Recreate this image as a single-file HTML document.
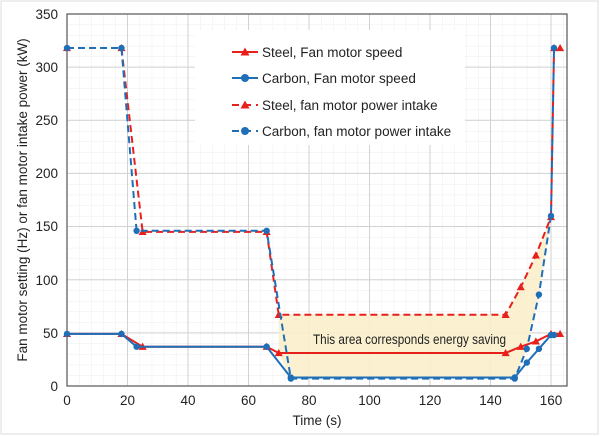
<!DOCTYPE html>
<html><head><style>body{margin:0;background:#fff}svg{display:block}text{font-family:"Liberation Sans",sans-serif;fill:#222;font-size:13.5px}</style></head><body>
<svg width="600" height="436" viewBox="0 0 600 436" xmlns="http://www.w3.org/2000/svg">
<defs>
<pattern id="mg" x="67" y="386" width="12.1" height="10.63" patternUnits="userSpaceOnUse">
<path d="M0,0 V10.63 M0,0 H12.1" stroke="#ececec" stroke-width="1" fill="none"/>
</pattern>
<marker id="t" viewBox="-5 -5 10 10" markerWidth="9" markerHeight="9" markerUnits="userSpaceOnUse"><path d="M0,-4.5 L4.5,3.5 L-4.5,3.5Z" fill="#e8201c"/></marker>
<marker id="c" viewBox="-5 -5 10 10" markerWidth="8" markerHeight="8" markerUnits="userSpaceOnUse"><circle r="4" fill="#1f6fb8"/></marker>
</defs>
<rect x="1" y="1" width="597" height="433" fill="#fff" stroke="#ddd"/>
<rect x="67" y="14" width="500" height="372" fill="url(#mg)"/>
<g stroke="#d2d2d2" stroke-width="1">
<line x1="127.5" y1="14" x2="127.5" y2="386"/><line x1="188" y1="14" x2="188" y2="386"/><line x1="248.5" y1="14" x2="248.5" y2="386"/><line x1="309" y1="14" x2="309" y2="386"/><line x1="369.5" y1="14" x2="369.5" y2="386"/><line x1="430" y1="14" x2="430" y2="386"/><line x1="490.5" y1="14" x2="490.5" y2="386"/><line x1="551" y1="14" x2="551" y2="386"/>
<line x1="67" y1="332.85" x2="567" y2="332.85"/><line x1="67" y1="279.7" x2="567" y2="279.7"/><line x1="67" y1="226.55" x2="567" y2="226.55"/><line x1="67" y1="173.4" x2="567" y2="173.4"/><line x1="67" y1="120.25" x2="567" y2="120.25"/><line x1="67" y1="67.1" x2="567" y2="67.1"/>
</g>
<rect x="67" y="14" width="500" height="372" fill="none" stroke="#555" stroke-width="1.2"/>
<rect x="195" y="30" width="270" height="115" fill="#fff"/>
<polygon points="278.75,314.8 505.63,314.8 520.75,287.1 535.88,255.3 551,217 538.9,294.6 526.8,348.8 514.7,378.6 290.85,378.6 278.75,353" fill="#fbefcc" opacity="0.9"/>
<text x="313" y="344" font-size="13" textLength="193" lengthAdjust="spacingAndGlyphs">This area corresponds energy saving</text>
<polyline points="67,333.9 121.45,333.9 142.63,346.7 266.65,346.7 278.75,353 505.63,353 520.75,346.7 535.88,341.4 551,333.9 560.08,333.9" fill="none" stroke="#e8201c" stroke-width="2" marker-start="url(#t)" marker-mid="url(#t)" marker-end="url(#t)"/>
<polyline points="67,333.9 121.45,333.9 136.58,346.7 266.65,346.7 290.85,377.5 514.7,377.5 526.8,362.6 538.9,348.8 551,335 554.03,335" fill="none" stroke="#1f6fb8" stroke-width="2" marker-start="url(#c)" marker-mid="url(#c)" marker-end="url(#c)"/>
<polyline points="67,48 121.45,48 142.63,231.9 266.65,231.9 278.75,314.8 505.63,314.8 520.75,287.1 535.88,255.3 551,217 554.03,48 560.08,48" fill="none" stroke="#e8201c" stroke-width="2" stroke-dasharray="7,4" marker-start="url(#t)" marker-mid="url(#t)" marker-end="url(#t)"/>
<polyline points="67,48 121.45,48 136.58,230.8 266.65,230.8 290.85,378.6 514.7,378.6 526.8,348.8 538.9,294.6 551,215.9 554.03,48" fill="none" stroke="#1f6fb8" stroke-width="2" stroke-dasharray="7,4" marker-start="url(#c)" marker-mid="url(#c)" marker-end="url(#c)"/>
<g>
<line x1="232" y1="52" x2="258" y2="52" stroke="#e8201c" stroke-width="2"/><path d="M245,47.5 L249.5,55.5 L240.5,55.5Z" fill="#e8201c"/>
<text x="262" y="57">Steel, Fan motor speed</text>
<line x1="232" y1="78" x2="258" y2="78" stroke="#1f6fb8" stroke-width="2"/><circle cx="245" cy="78" r="4" fill="#1f6fb8"/>
<text x="262" y="83">Carbon, Fan motor speed</text>
<line x1="232" y1="105" x2="258" y2="105" stroke="#e8201c" stroke-width="2" stroke-dasharray="7,5"/><path d="M245,100.5 L249.5,108.5 L240.5,108.5Z" fill="#e8201c"/>
<text x="262" y="110">Steel, fan motor power intake</text>
<line x1="232" y1="131" x2="258" y2="131" stroke="#1f6fb8" stroke-width="2" stroke-dasharray="7,5"/><circle cx="245" cy="131" r="4" fill="#1f6fb8"/>
<text x="262" y="136">Carbon, fan motor power intake</text>
</g>
<g text-anchor="end" font-size="14">
<text x="58" y="391">0</text><text x="58" y="338">50</text><text x="58" y="285">100</text><text x="58" y="231">150</text><text x="58" y="178">200</text><text x="58" y="125">250</text><text x="58" y="72">300</text><text x="58" y="19">350</text>
</g>
<g text-anchor="middle">
<text x="67" y="405">0</text><text x="127.5" y="405">20</text><text x="188" y="405">40</text><text x="248.5" y="405">60</text><text x="309" y="405">80</text><text x="369.5" y="405">100</text><text x="430" y="405">120</text><text x="490.5" y="405">140</text><text x="551" y="405">160</text>
<text x="317" y="425">Time (s)</text>
<text transform="translate(27,200) rotate(-90)">Fan motor setting (Hz) or fan motor intake power (kW)</text>
</g>
</svg>
</body></html>
